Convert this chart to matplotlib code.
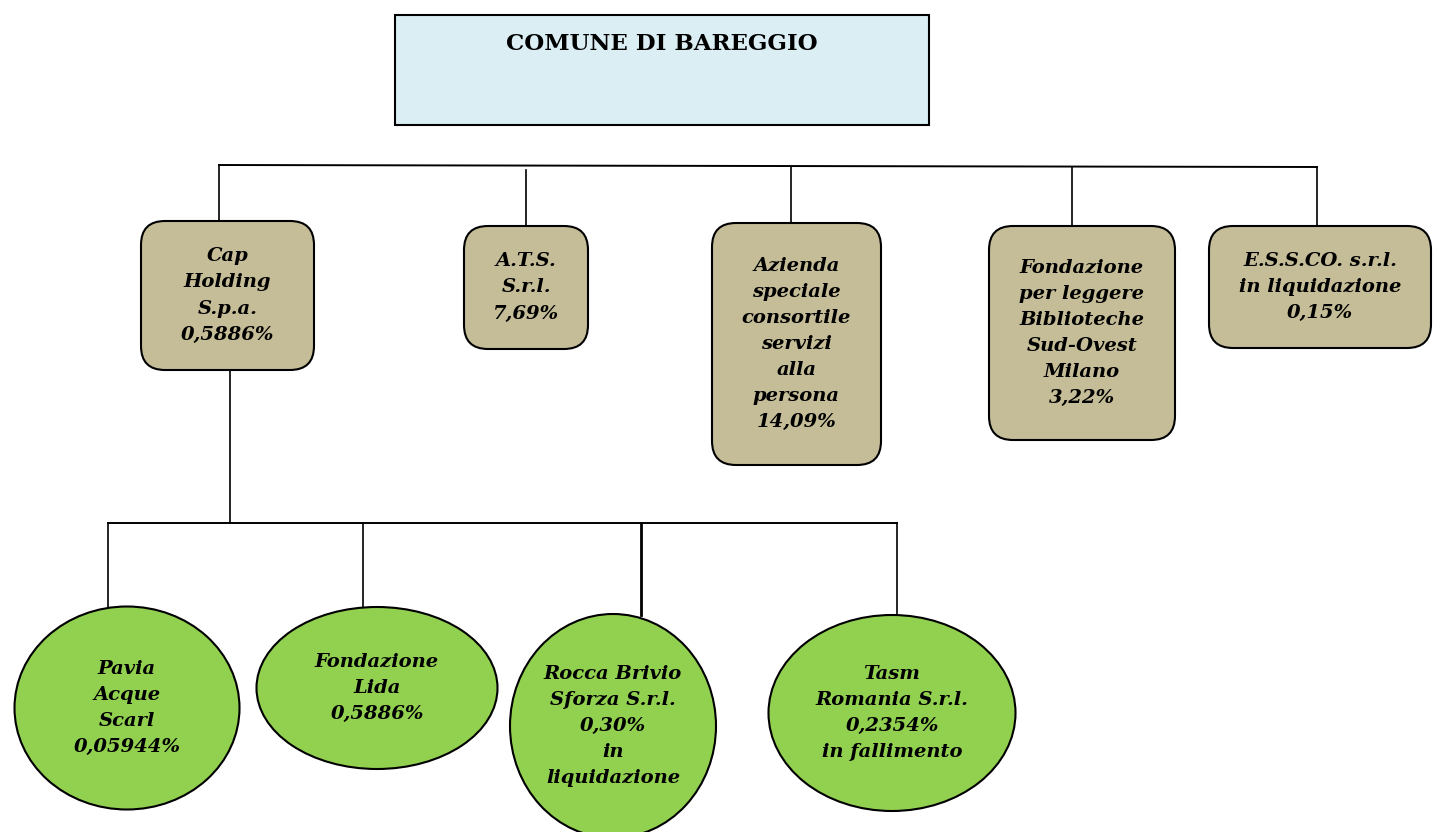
import matplotlib
matplotlib.use('Agg')
import matplotlib.pyplot as plt
from matplotlib.patches import FancyBboxPatch, Ellipse, Rectangle

# ---- content -------------------------------------------------------------
root_label = 'COMUNE DI BAREGGIO'

holding_labels = [
    'Cap\nHolding\nS.p.a.\n0,5886%',
    'A.T.S.\nS.r.l.\n7,69%',
    'Azienda\nspeciale\nconsortile\nservizi\nalla\npersona\n14,09%',
    'Fondazione\nper leggere\nBiblioteche\nSud-Ovest\nMilano\n3,22%',
    'E.S.S.CO. s.r.l.\nin liquidazione\n0,15%',
]

sub_labels = [
    'Pavia\nAcque\nScarl\n0,05944%',
    'Fondazione\nLida\n0,5886%',
    'Rocca Brivio\nSforza S.r.l.\n0,30%\nin\nliquidazione',
    'Tasm\nRomania S.r.l.\n0,2354%\nin fallimento',
]

# ---- layout (pixels, y downwards) ---------------------------------------
root_box = (395, 15, 534, 110)          # x, y, w, h
root_bus_y = 166
holding_boxes = [                        # x, y, w, h
    (141, 221, 173, 149),
    (464, 226, 124, 123),
    (712, 223, 169, 242),
    (989, 226, 186, 214),
    (1209, 226, 222, 122),
]
holding_drop_x = [219, 526, 791, 1072, 1317]
holding_drop_top = [165, 170, 167, 167, 167]

sub_bus_y = 523
sub_ellipses = [                         # cx, cy, w, h
    (127, 708, 225, 203),
    (377, 688, 241, 162),
    (613, 726, 206, 224),
    (892, 713, 247, 196),
]
sub_drop_x = [108, 363, 641, 897]
sub_drop_bottom = [607, 608, 615, 618]

box_color = '#c4bd97'
ellipse_color = '#92d050'
root_color = '#daeef3'

text_kw = dict(family='DejaVu Serif', weight='bold', style='italic',
               fontsize=14, ha='center', va='center', linespacing=1.58)

fig = plt.figure(figsize=(14.33, 8.32), dpi=100)
ax = fig.add_axes([0, 0, 1, 1])
ax.set_xlim(0, 1433)
ax.set_ylim(832, 0)
ax.axis('off')

# root
x, y, w, h = root_box
ax.add_patch(Rectangle((x, y), w, h, facecolor=root_color,
                       edgecolor='black', lw=1.5, zorder=2))
ax.text(x + w / 2, 44, root_label, family='DejaVu Serif', weight='bold',
        fontsize=16.5, ha='center', va='center', zorder=3)

# connectors to first level
ax.plot([holding_drop_x[0], holding_drop_x[-1]], [root_bus_y - 1, root_bus_y + 1],
        color='black', lw=1.4, zorder=1)
for xd, yt, box in zip(holding_drop_x, holding_drop_top, holding_boxes):
    ax.plot([xd, xd], [yt, box[1]], color='black', lw=1.2, zorder=1)

# first level boxes
for (x, y, w, h), lab in zip(holding_boxes, holding_labels):
    ax.add_patch(FancyBboxPatch((x, y), w, h,
                                boxstyle='round,pad=0,rounding_size=24',
                                facecolor=box_color, edgecolor='black',
                                lw=1.5, zorder=2))
    ax.text(x + w / 2, y + h / 2, lab, zorder=3, **text_kw)

# connectors to second level
cap = holding_boxes[0]
cap_cx = 230
ax.plot([cap_cx, cap_cx], [cap[1] + cap[3], sub_bus_y], color='black', lw=1.2, zorder=1)
ax.plot([sub_drop_x[0], sub_drop_x[-1]], [sub_bus_y, sub_bus_y],
        color='black', lw=1.4, zorder=1)
for xd, yb in zip(sub_drop_x, sub_drop_bottom):
    ax.plot([xd, xd], [sub_bus_y, yb], color='black',
            lw=2.0 if xd == 641 else 1.2, zorder=1)

# second level ellipses
for (cx, cy, w, h), lab in zip(sub_ellipses, sub_labels):
    ax.add_patch(Ellipse((cx, cy), w, h, facecolor=ellipse_color,
                         edgecolor='black', lw=1.5, zorder=2))
    ax.text(cx, cy, lab, zorder=3, **text_kw)

fig.savefig('out.png', dpi=100)
